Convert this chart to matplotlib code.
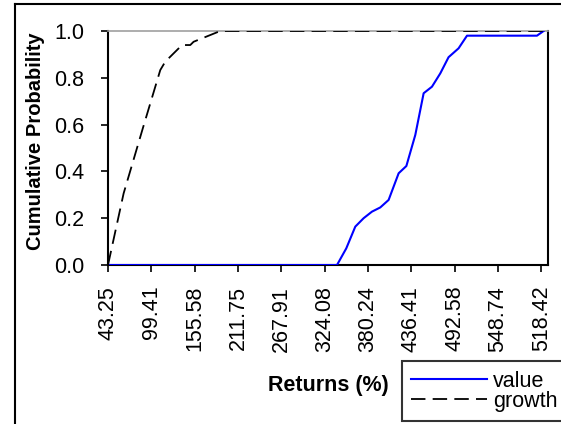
import matplotlib
matplotlib.use("Agg")
import matplotlib.pyplot as plt
from matplotlib.lines import Line2D
import numpy as np

plt.rcParams['font.family'] = ['Liberation Sans', 'DejaVu Sans']

# Tick labels (as printed on the original chart)
tick_labels = ["43.25", "99.41", "155.58", "211.75", "267.91", "324.08",
               "380.24", "436.41", "492.58", "548.74", "518.42"]
tick_start = 43.25
tick_step = 56.1667

# Series: value
value_x = [43.25, 340.1, 352.1, 363.8, 374.6, 385.4, 396.2, 407.0, 420.0, 430.0,
           441.6, 452.4, 463.2, 474.0, 484.7, 497.7, 508.6, 599.3, 607.9]
value_y = [0.0, 0.0, 0.071, 0.164, 0.20, 0.228, 0.246, 0.278, 0.392, 0.423,
           0.556, 0.734, 0.762, 0.819, 0.888, 0.926, 0.98, 0.98, 1.0]

# Series: growth
growth_x = [43.25, 63.5, 88.0, 111.0, 117.5, 139.2, 149.9, 154.2, 188.8, 607.9]
growth_y = [0.0, 0.306, 0.58, 0.833, 0.869, 0.94, 0.94, 0.954, 1.0, 1.0]

W, H = 561, 424
fig = plt.figure(figsize=(W / 100, H / 100), dpi=100)
L, R, T, B = 108, 548.3, 31, 265
ax = fig.add_axes([L / W, 1 - B / H, (R - L) / W, (B - T) / H])

ax.plot(value_x, value_y, color='#0000ff', lw=1.5, label='value', zorder=3)
ax.plot(growth_x, growth_y, color='black', lw=1.3, linestyle=(0, (8, 4)),
        label='growth', zorder=3)

xmax = tick_start + tick_step * (R - L) / 43.33
ax.set_xlim(tick_start, xmax)
ax.set_ylim(0, 1.0)

ticks = [tick_start + tick_step * i for i in range(len(tick_labels))]
ax.set_xticks(ticks)
ax.set_xticklabels(tick_labels, rotation=90, fontsize=15.5)
ax.set_yticks([0, 0.2, 0.4, 0.6, 0.8, 1.0])
ax.set_yticklabels(["0.0", "0.2", "0.4", "0.6", "0.8", "1.0"], fontsize=15.5)
ax.tick_params(axis='both', direction='out', length=5, width=1.2, color='black')
ax.tick_params(axis='y', pad=12)
ax.tick_params(axis='x', pad=10)

for s in ['left', 'bottom', 'right']:
    ax.spines[s].set_color('black')
    ax.spines[s].set_linewidth(1.5)
ax.spines['top'].set_color('#a0a0a0')
ax.spines['top'].set_linewidth(1.2)

ax.set_xlabel("Returns (%)", fontsize=15.5, fontweight='bold')
ax.xaxis.label.set_va('center')
ax.xaxis.set_label_coords(0.5, (B - 385) / (B - T))
ax.set_ylabel("Cumulative Probability", fontsize=14.5, fontweight='bold')
ax.yaxis.label.set_va('center')
ax.yaxis.set_label_coords((35.5 - L) / (R - L), (B - 141.5) / (B - T))

leg = fig.legend(loc='upper left', bbox_to_anchor=(401.7 / W, 1 - 361 / H),
                 borderaxespad=0, fontsize=15.5, frameon=True, fancybox=False,
                 edgecolor='black', handlelength=3.5, handletextpad=0.3,
                 labelspacing=-0.05, borderpad=0.45)
leg.get_frame().set_linewidth(1.5)

# outer chart border (cut off on right and bottom)
fig.add_artist(Line2D([15 / W, 1.0], [1 - 4 / H, 1 - 4 / H], color='black', lw=1.5,
                      transform=fig.transFigure))
fig.add_artist(Line2D([15 / W, 15 / W], [1 - 4 / H, 0.0], color='black', lw=1.5,
                      transform=fig.transFigure))

fig.savefig("out.png", dpi=100)
